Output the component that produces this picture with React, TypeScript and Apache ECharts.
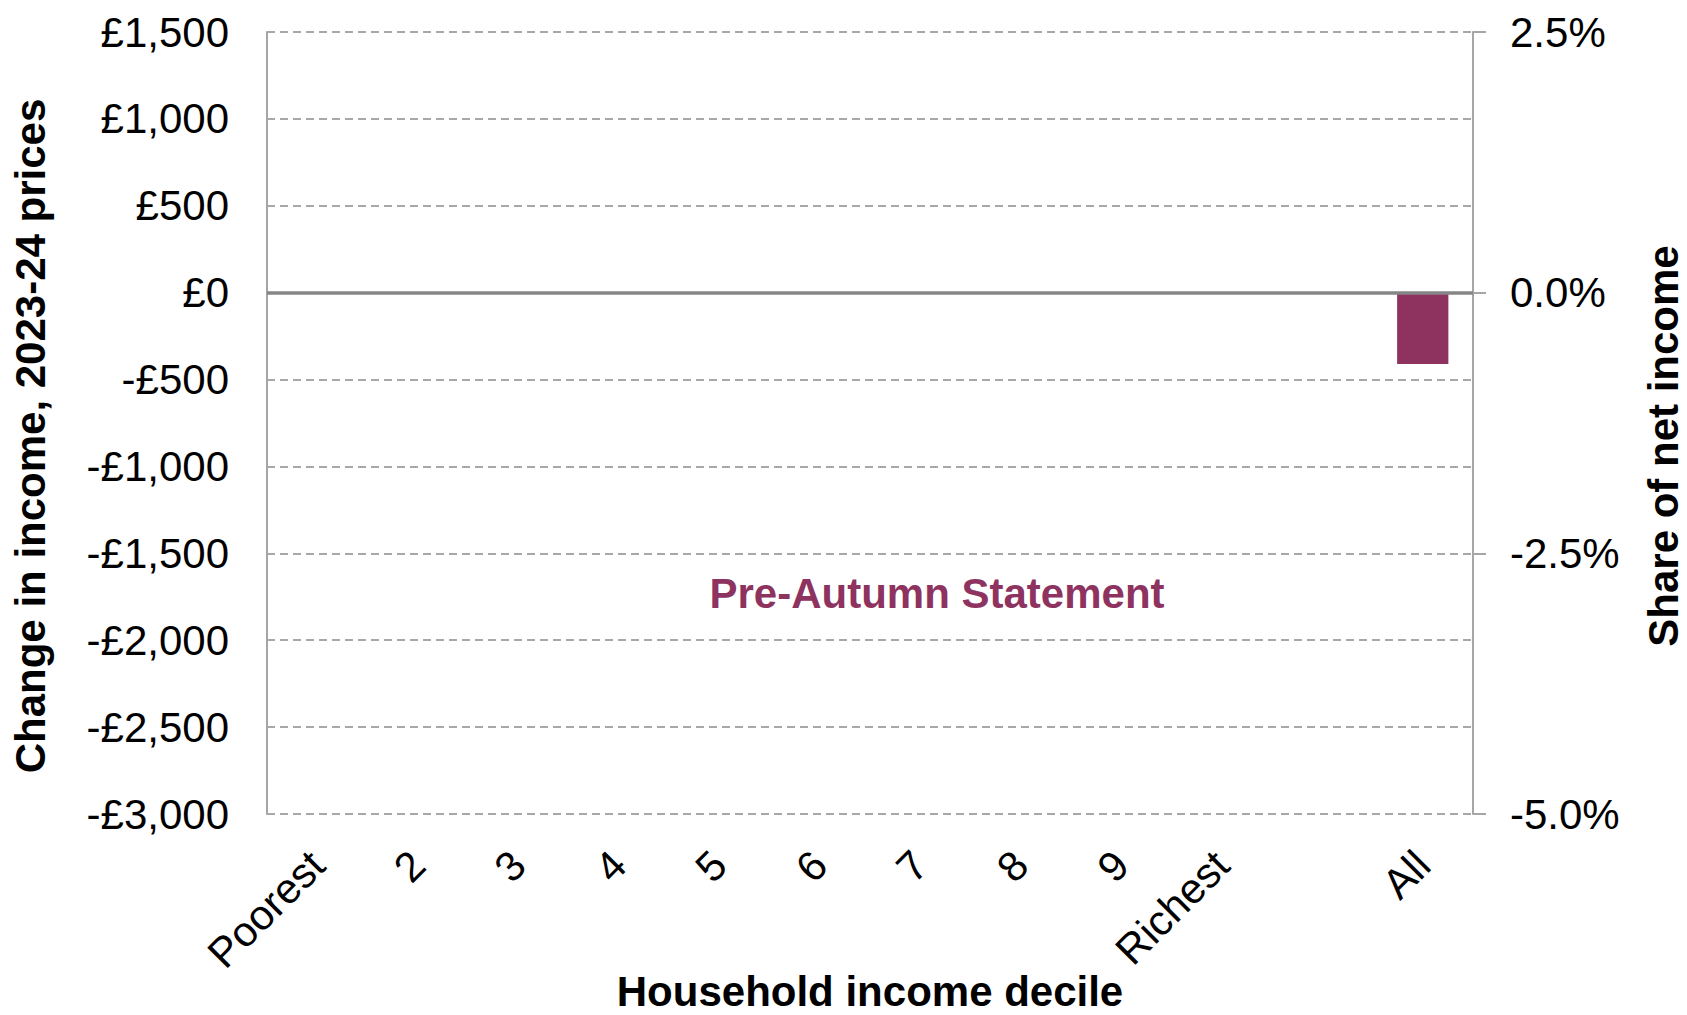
import React, { useEffect, useRef } from "react";
import * as echarts from "echarts";

const categories = ["Poorest", "2", "3", "4", "5", "6", "7", "8", "9", "Richest", "", "All"];
const preAutumnValues: (number | null)[] = [null, null, null, null, null, null, null, null, null, null, null, -410];
const leftTicks = { min: -3000, max: 1500, interval: 500 };
const rightTicks = { min: -5, max: 2.5, interval: 2.5 };

const FONT = "'Liberation Sans', Arial, sans-serif";
const BAR_COLOR = "#8E3360";

function fmtPounds(v: number): string {
  const a = Math.abs(v);
  const s = a.toString().replace(/\B(?=(\d{3})+(?!\d))/g, ",");
  return (v < 0 ? "-£" : "£") + s;
}

export default function App() {
  const ref = useRef<HTMLDivElement>(null);
  useEffect(() => {
    if (!ref.current) return;
    const chart = echarts.init(ref.current, null, { renderer: "svg" });
    chart.setOption({
      animation: false,
      backgroundColor: "#ffffff",
      textStyle: { fontFamily: FONT },
      grid: { left: 267, right: 214, top: 32, bottom: 201, containLabel: false, outerBoundsMode: "none" },
      xAxis: {
        type: "category",
        data: categories,
        axisLine: { show: false },
        axisTick: { show: false },
        axisLabel: { interval: 0, rotate: 45, margin: 44, fontSize: 42, color: "#000", fontFamily: FONT },
        splitLine: { show: false },
      },
      yAxis: [
        {
          type: "value",
          position: "left",
          min: leftTicks.min,
          max: leftTicks.max,
          interval: leftTicks.interval,
          axisLine: { show: true, lineStyle: { color: "#A6A6A6", width: 2 } },
          axisTick: { show: false },
          axisLabel: { margin: 38, fontSize: 42, color: "#000", fontFamily: FONT, formatter: (v: number) => fmtPounds(v) },
          splitLine: { show: true, lineStyle: { color: "#8c8c8c", width: 1.5, type: [8, 5] } },
        },
        {
          type: "value",
          position: "right",
          min: rightTicks.min,
          max: rightTicks.max,
          interval: rightTicks.interval,
          axisLine: { show: true, lineStyle: { color: "#A6A6A6", width: 2 } },
          axisTick: { show: true, length: 13, lineStyle: { color: "#A6A6A6", width: 2 } },
          axisLabel: { margin: 37, fontSize: 42, color: "#000", fontFamily: FONT, formatter: (v: number) => v.toFixed(1) + "%" },
          splitLine: { show: false },
        },
      ],
      series: [
        {
          name: "Pre-Autumn Statement",
          type: "bar",
          yAxisIndex: 0,
          data: preAutumnValues,
          barWidth: "51%",
          itemStyle: { color: BAR_COLOR },
          markLine: {
            silent: true,
            symbol: "none",
            label: { show: false },
            lineStyle: { color: "#868686", width: 3.5, type: "solid" },
            data: [{ yAxis: 0 }],
          },
        },
      ],
      graphic: [
        {
          type: "text",
          x: 30,
          y: 436,
          rotation: Math.PI / 2,
          style: { text: "Change in income, 2023-24 prices", fontSize: 42, fontWeight: "bold", fontFamily: FONT, fill: "#000", textAlign: "center", textVerticalAlign: "middle" },
        },
        {
          type: "text",
          x: 1663,
          y: 446,
          rotation: Math.PI / 2,
          style: { text: "Share of net income", fontSize: 42, fontWeight: "bold", fontFamily: FONT, fill: "#000", textAlign: "center", textVerticalAlign: "middle" },
        },
        {
          type: "text",
          x: 870,
          y: 991,
          style: { text: "Household income decile", fontSize: 42, fontWeight: "bold", fontFamily: FONT, fill: "#000", textAlign: "center", textVerticalAlign: "middle" },
        },
        {
          type: "text",
          x: 937,
          y: 593,
          style: { text: "Pre-Autumn Statement", fontSize: 42, fontWeight: "bold", fontFamily: FONT, fill: BAR_COLOR, textAlign: "center", textVerticalAlign: "middle" },
        },
      ],
    });
    return () => chart.dispose();
  }, []);
  return (
    <div
      ref={ref}
      style={{ position: "fixed", left: 0, top: 0, width: 1687, height: 1015, background: "#fff" }}
    />
  );
}
